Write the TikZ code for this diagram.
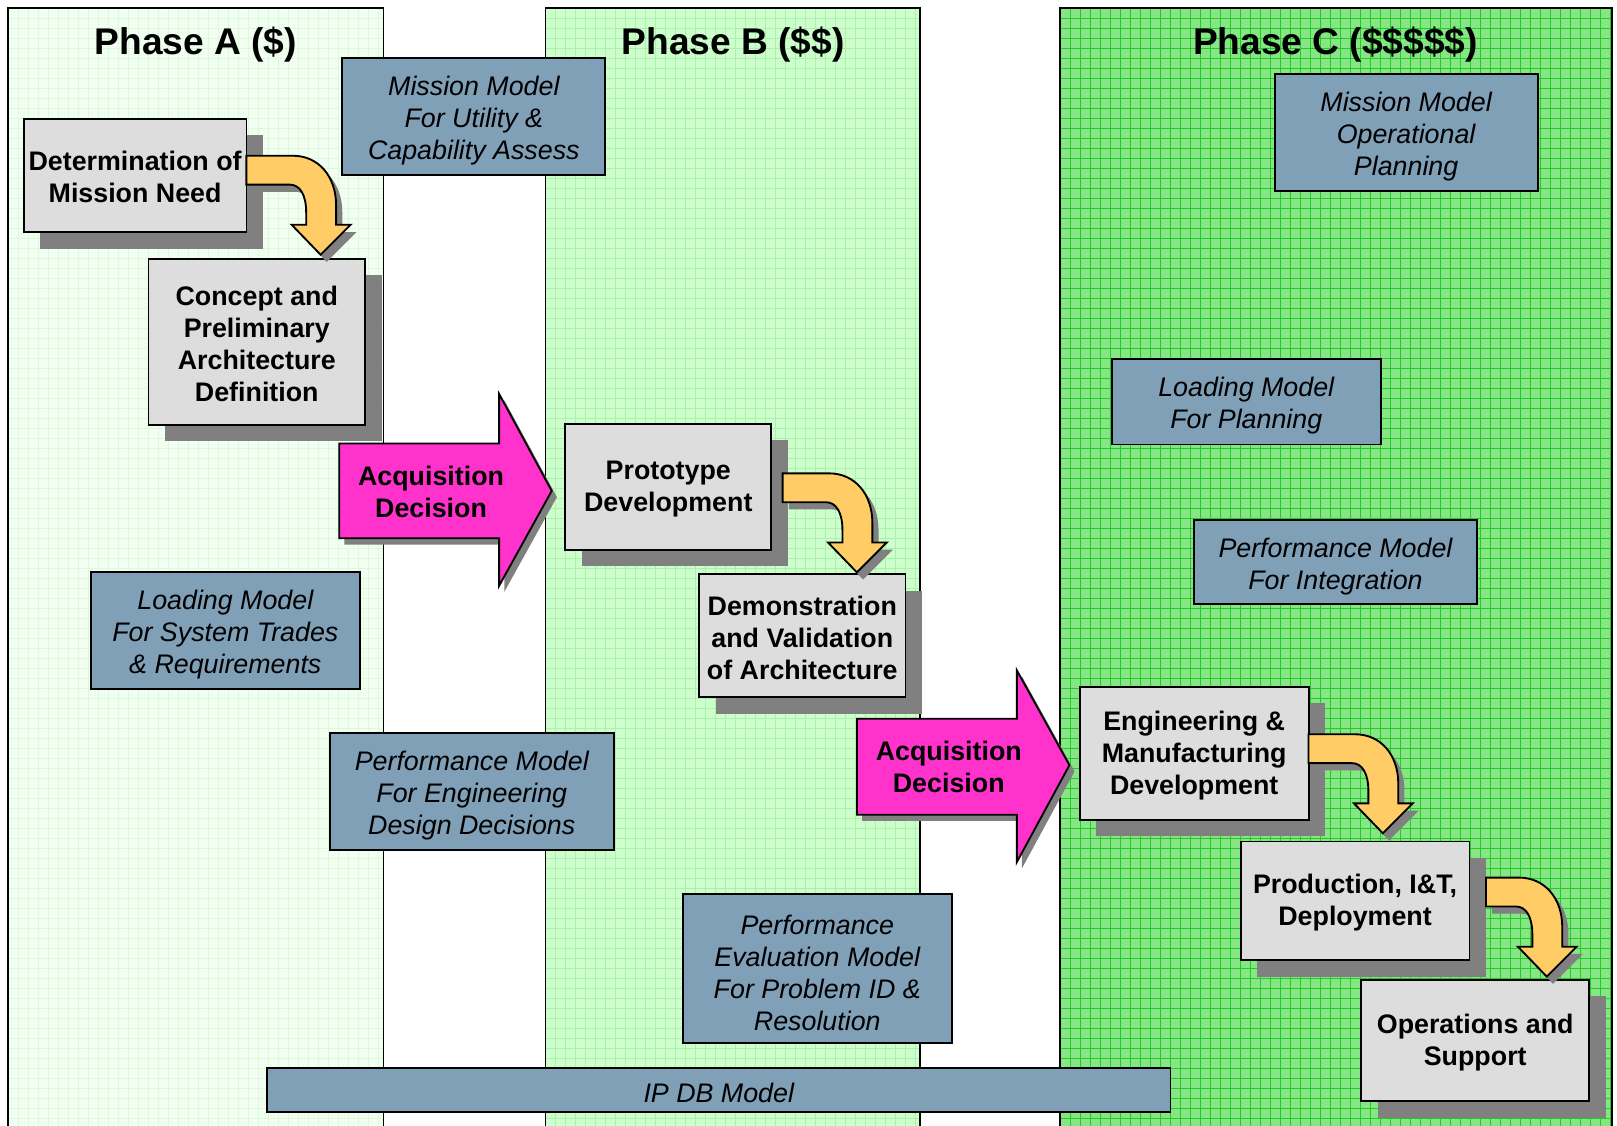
\documentclass[tikz,border=0pt]{standalone}
\usepackage{fontspec}
\setmainfont{Liberation Sans}
\usetikzlibrary{shadows,calc}
\definecolor{pA}{HTML}{F0FFF0}
\definecolor{pAl}{HTML}{DFF6DF}
\definecolor{pB}{HTML}{CCFFCC}
\definecolor{pBl}{HTML}{AEEFAE}
\definecolor{pC}{HTML}{86E686}
\definecolor{pCl}{HTML}{26CA26}
\definecolor{boxgray}{HTML}{DDDDDD}
\definecolor{shgray}{HTML}{808080}
\definecolor{modelblue}{HTML}{80A0B8}
\definecolor{acqpink}{HTML}{FF33CC}
\definecolor{flowyellow}{HTML}{FFCC66}
\newcommand\gridpanel[4]{%
  \fill[#3] (#1,8) rectangle (#2,1100);
  \begin{scope}
    \clip (#1,8) rectangle (#2,1100);
    \foreach \gx in {0,...,60} \draw[#4,line width=0.5pt] ({#1+9.7*\gx},8) -- ({#1+9.7*\gx},1100);
    \foreach \gy in {0,...,115} \draw[#4,line width=0.5pt] (#1,{8+9.7*\gy}) -- (#2,{8+9.7*\gy});
  \end{scope}
  \draw[panel] (#1,1100) -- (#1,8) -- (#2,8) -- (#2,1100);
}
\begin{document}
\begin{tikzpicture}[x=0.5pt,y=-0.5pt,
  panel/.style={draw=black,line width=0.8pt},
  stepbox/.style={draw=black,line width=0.9pt,fill=boxgray,inner sep=0pt,
    general shadow={fill=shgray,shadow xshift=8pt,shadow yshift=-8pt}},
  steptext/.style={align=center,font=\fontsize{13}{15.5}\selectfont\bfseries,inner sep=0pt},
  modelbox/.style={draw=black,line width=0.9pt,fill=modelblue,inner sep=0pt},
  modeltext/.style={align=center,font=\fontsize{13}{15.5}\selectfont\itshape,inner sep=0pt},
  phasetitle/.style={font=\fontsize{18}{21}\selectfont\bfseries},
  acqtext/.style={align=center,font=\fontsize{13}{15.5}\selectfont\bfseries},
  acqarrow/.style={draw=black,line width=0.9pt,fill=acqpink,line join=miter},
  pics/flowarrow/.style={code={
    \fill[shgray,shift={(6,7)}] (0,0) -- ({45+(#1)},0) .. controls ({70+(#1)},0) and ({87+(#1)},20) .. ({87+(#1)},48) -- ({87+(#1)},67) -- ({101+(#1)},67) -- ({72+(#1)},96) -- ({44+(#1)},67) -- ({58+(#1)},67) -- ({58+(#1)},55) .. controls ({58+(#1)},38) and ({52+(#1)},28) .. ({42+(#1)},28) -- (0,28) -- cycle;
    \draw[line width=0.9pt,fill=flowyellow,line join=miter] (0,0) -- ({45+(#1)},0) .. controls ({70+(#1)},0) and ({87+(#1)},20) .. ({87+(#1)},48) -- ({87+(#1)},67) -- ({101+(#1)},67) -- ({72+(#1)},96) -- ({44+(#1)},67) -- ({58+(#1)},67) -- ({58+(#1)},55) .. controls ({58+(#1)},38) and ({52+(#1)},28) .. ({42+(#1)},28) -- (0,28) -- cycle;
  }}
]
\useasboundingbox (0,0) rectangle (1568,1091);
\clip (0,0) rectangle (1568,1091);
\fill[white] (0,0) rectangle (1568,1091);

% phases
\gridpanel{8}{372}{pA}{pAl}
\gridpanel{529}{892}{pB}{pBl}
\gridpanel{1028}{1563}{pC}{pCl}

\node[phasetitle] (tA) at (190,43) {Phase A (\$)};
\node[phasetitle] (tB) at (711,43) {Phase B (\$\$)};
\node[phasetitle] (tC) at (1295,43) {Phase C (\$\$\$\$\$)};

% models
\node[modelbox,minimum width=127.5pt,minimum height=57pt] (mu) at (459.5,113) {};
\node[modeltext] (muT) at ($(mu.center)+(0,4)$) {Mission Model\\For Utility \&\\Capability Assess};
\node[modelbox,minimum width=127.5pt,minimum height=56.5pt] (mo) at (1363.5,128.5) {};
\node[modeltext] (moT) at ($(mo.center)+(0,4)$) {Mission Model\\Operational\\Planning};
\node[modelbox,minimum width=130.5pt,minimum height=41.5pt] (lp) at (1208.5,389.5) {};
\node[modeltext] (lpT) at ($(lp.center)+(0,4)$) {Loading Model\\For Planning};
\node[modelbox,minimum width=137pt,minimum height=41pt] (pi) at (1295,545) {};
\node[modeltext] (piT) at ($(pi.center)+(0,4)$) {Performance Model\\For Integration};
\node[modelbox,minimum width=130.5pt,minimum height=56.5pt] (ls) at (218.5,611.5) {};
\node[modeltext] (lsT) at ($(ls.center)+(0,4)$) {Loading Model\\For System Trades\\\& Requirements};
\node[modelbox,minimum width=137.5pt,minimum height=56.5pt] (pe) at (457.5,767.5) {};
\node[modeltext] (peT) at ($(pe.center)+(0,4)$) {Performance Model\\For Engineering\\Design Decisions};
\node[modelbox,minimum width=130.5pt,minimum height=72pt] (pv) at (792.5,939) {};
\node[modeltext] (pvT) at ($(pv.center)+(0,4)$) {Performance\\Evaluation Model\\For Problem ID \&\\Resolution};
\node[modelbox,minimum width=438pt,minimum height=21pt] (ip) at (697,1057) {};
\node[modeltext] (ipT) at ($(ip.center)+(0,3)$) {IP DB Model};

% acquisition decisions
\fill[shgray,shift={(5,6)}] (329,430) -- (484,430) -- (484,382) -- (535,476) -- (484,568) -- (484,522) -- (329,522) -- cycle;
\draw[acqarrow] (329,430) -- (484,430) -- (484,382) -- (535,476) -- (484,568) -- (484,522) -- (329,522) -- cycle;
\node[acqtext] (acq1) at (418,477) {Acquisition\\Decision};
\fill[shgray,shift={(5,6)}] (831,697) -- (986,697) -- (986,650) -- (1037,742) -- (986,836) -- (986,790) -- (831,790) -- cycle;
\draw[acqarrow] (831,697) -- (986,697) -- (986,650) -- (1037,742) -- (986,836) -- (986,790) -- (831,790) -- cycle;
\node[acqtext] (acq2) at (920,744) {Acquisition\\Decision};

% steps
\node[stepbox,minimum width=108pt,minimum height=55pt] (det) at (131,170) {};
\node[steptext] (detT) at ($(det.center)+(0,2)$) {Determination of\\Mission Need};
\node[stepbox,minimum width=105pt,minimum height=80.5pt] (con) at (249,331.5) {};
\node[steptext] (conT) at ($(con.center)+(0,2)$) {Concept and\\Preliminary\\Architecture\\Definition};
\node[stepbox,minimum width=100pt,minimum height=61pt] (pro) at (648,472) {};
\node[steptext] (proT) at ($(pro.center)+(0,2)$) {Prototype\\Development};
\node[stepbox,minimum width=100pt,minimum height=59.5pt] (dem) at (778,616.5) {};
\node[steptext] (demT) at ($(dem.center)+(0,2)$) {Demonstration\\and Validation\\of Architecture};
\node[stepbox,minimum width=111pt,minimum height=64.5pt] (eng) at (1158,730.5) {};
\node[steptext] (engT) at ($(eng.center)+(0,2)$) {Engineering \&\\Manufacturing\\Development};
\node[stepbox,minimum width=111pt,minimum height=57.5pt] (prd) at (1314,873.5) {};
\node[steptext] (prdT) at ($(prd.center)+(0,2)$) {Production, I\&T,\\Deployment};
\node[stepbox,minimum width=110.5pt,minimum height=59pt] (ops) at (1430.5,1009) {};
\node[steptext] (opsT) at ($(ops.center)+(0,2)$) {Operations and\\Support};

% flow arrows
\coordinate (a1) at ($(det.east)+(-1,-19)$);
\coordinate (a2) at ($(pro.east)+(10,-13)$);
\coordinate (a3) at ($(eng.east)+(-1,-18.5)$);
\coordinate (a4) at ($(prd.east)+(15,-22.5)$);
\pic at (a1) {flowarrow=0};
\pic at (a2) {flowarrow=0};
\pic at (a3) {flowarrow=0};
\pic at (a4) {flowarrow=-13};
\end{tikzpicture}
\end{document}
